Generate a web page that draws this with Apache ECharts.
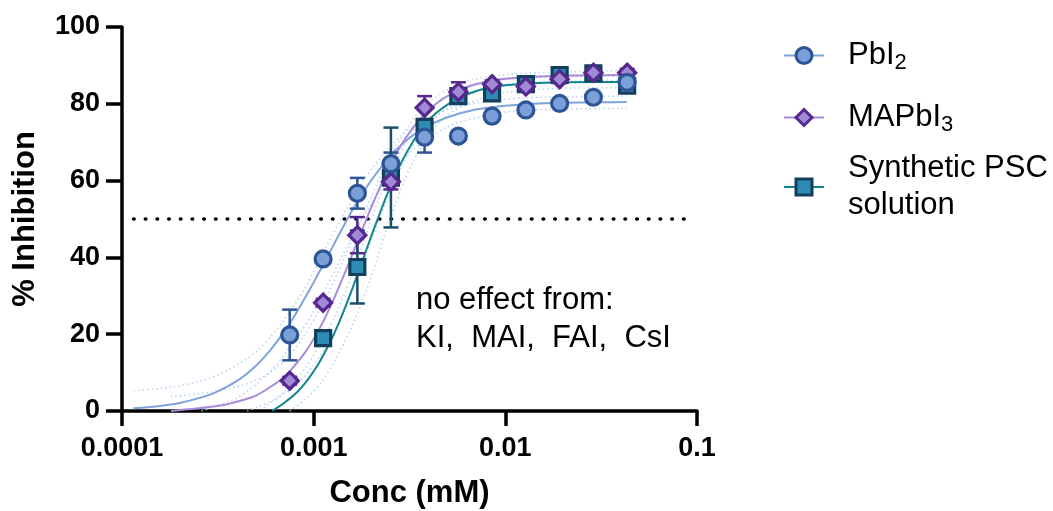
<!DOCTYPE html>
<html>
<head>
<meta charset="utf-8">
<script src="https://cdn.jsdelivr.net/npm/echarts@6/dist/echarts.min.js"></script>
<style>
  html, body { margin: 0; padding: 0; background: #fff; }
  #chart { width: 1053px; height: 511px; }
</style>
</head>
<body>
<div id="chart"></div>
<script>
// ---- measured points (mean ± SD) ----
const concs = [0.00075, 0.00112, 0.00169, 0.00253, 0.00379, 0.00569, 0.00853, 0.0128, 0.0192, 0.0288, 0.0432];
const pbi2Mean = [19.8, 39.6, 56.7, 64.4, 71.3, 71.6, 76.8, 78.4, 80.1, 81.7, 85.6];
const pbi2Sd = [6.6, 1.0, 4.0, 2.9, 4.0, 1.0, 1.0, 1.0, 1.0, 1.0, 1.0];
const mapbi3Mean = [7.9, 28.2, 45.8, 59.7, 79.0, 83.1, 85.1, 84.5, 86.4, 88.1, 88.1];
const mapbi3Sd = [1.0, 1.0, 4.7, 2.0, 3.0, 2.5, 1.0, 1.0, 1.0, 1.0, 1.0];
const pscConcs = [0.00112, 0.00169, 0.00253, 0.00379, 0.00569, 0.00853, 0.0128, 0.0192, 0.0288, 0.0432];
const pscMean = [19.0, 37.5, 60.8, 74.0, 82.0, 82.7, 85.1, 87.5, 87.9, 84.7];
const pscSd = [1.0, 9.5, 13.0, 1.5, 1.0, 1.0, 1.0, 1.0, 1.0, 1.0];

// ---- fitted dose-response curves ----
const pbi2FitConc = [0.000115, 0.00015, 0.0002, 0.0003, 0.0004, 0.0005, 0.0006, 0.0007, 0.0008, 0.0009, 0.001, 0.0012, 0.0013, 0.0015, 0.0017, 0.002, 0.0025, 0.003, 0.0035, 0.004, 0.005, 0.007, 0.01, 0.015, 0.02, 0.03, 0.043];
const pbi2FitY = [0.7, 1.2, 2.1, 4.6, 7.9, 11.8, 16.1, 20.6, 25.0, 29.4, 33.5, 40.9, 44.2, 50.0, 54.7, 60.1, 66.3, 70.2, 72.7, 74.4, 76.5, 78.5, 79.5, 80.1, 80.3, 80.4, 80.45];
const mapbi3FitConc = [0.00018, 0.00025, 0.00035, 0.0005, 0.0007, 0.0009, 0.0011, 0.0013, 0.0015, 0.0017, 0.002, 0.0025, 0.003, 0.0037, 0.0045, 0.0057, 0.0075, 0.01, 0.015, 0.022, 0.043];
const mapbi3FitY = [0.0, 0.7, 1.7, 4.0, 8.8, 15.2, 22.5, 30.2, 37.6, 44.4, 53.1, 63.9, 70.9, 76.8, 80.6, 83.6, 85.5, 86.5, 87.1, 87.4, 87.5];
const pscFitConc = [0.000607, 0.0007, 0.000819, 0.00093, 0.001042, 0.00115, 0.001272, 0.0014, 0.0016, 0.00179, 0.002, 0.00225, 0.00253, 0.0029, 0.00332, 0.0038, 0.0044, 0.0057, 0.0075, 0.01, 0.015, 0.0215, 0.0432];
const pscFitY = [0.0, 2.1, 4.9, 8.1, 11.7, 15.5, 19.9, 24.7, 32.2, 38.9, 45.6, 52.4, 58.8, 65.2, 70.4, 74.5, 77.8, 81.6, 83.7, 84.8, 85.4, 85.6, 85.7];

// ---- 95% confidence bands of the fits ----
const pbi2UpperConc = [0.000115, 0.00018, 0.00027, 0.00037, 0.00049, 0.0006, 0.0007, 0.0009, 0.0012, 0.0015, 0.002, 0.003, 0.005, 0.01, 0.02, 0.043];
const pbi2UpperY = [5.3, 6.2, 8.1, 11.1, 15.0, 19.5, 23.7, 32.0, 44.0, 53.0, 63.0, 72.5, 78.5, 81.2, 81.8, 82.0];
const pbi2LowerConc = [0.00026, 0.0004, 0.0006, 0.0008, 0.001, 0.0012, 0.0015, 0.002, 0.003, 0.005, 0.01, 0.02, 0.043];
const pbi2LowerY = [0.0, 3.5, 10.5, 18.5, 26.0, 33.5, 43.0, 54.0, 66.0, 74.0, 77.8, 78.6, 78.8];
const mapbi3UpperConc = [0.00018, 0.0003, 0.0005, 0.0007, 0.0009, 0.0012, 0.0017, 0.0025, 0.0037, 0.006, 0.01, 0.02, 0.043];
const mapbi3UpperY = [3.7, 5.0, 8.0, 13.0, 20.0, 31.0, 48.0, 66.0, 79.0, 85.5, 87.6, 88.3, 88.6];
const mapbi3LowerConc = [0.00045, 0.0006, 0.0008, 0.001, 0.0013, 0.0017, 0.0025, 0.0037, 0.006, 0.01, 0.02, 0.043];
const mapbi3LowerY = [0.0, 2.5, 6.5, 12.0, 21.0, 35.0, 57.0, 73.0, 81.5, 85.0, 85.8, 86.2];
const pscUpperConc = [0.00055, 0.0007, 0.0009, 0.0011, 0.0013, 0.0016, 0.002, 0.0025, 0.0033, 0.0044, 0.006, 0.01, 0.02, 0.043];
const pscUpperY = [0.8, 5.0, 11.0, 18.0, 25.0, 36.0, 50.0, 62.0, 73.0, 80.0, 83.8, 86.3, 87.0, 87.2];
const pscLowerConc = [0.00075, 0.0009, 0.0011, 0.0013, 0.0016, 0.002, 0.0025, 0.0033, 0.0044, 0.006, 0.01, 0.02, 0.043];
const pscLowerY = [0.0, 3.0, 7.5, 13.5, 22.5, 35.0, 50.0, 65.0, 74.5, 79.5, 83.0, 84.0, 84.2];

// ---- reference level and tick labels ----
const halfLevelConc = [0.000115, 0.0902];
const halfLevelY = [50, 50];
const xTickLabels = ['0.0001', '0.001', '0.01', '0.1'];

const FONT = '"Liberation Sans", Arial, Helvetica, sans-serif';

const styles = {
  'PbI2': { symbol: 'circle', size: 16, fill: '#7b9fd8', border: '#2d5596', curve: '#7fa3dc', bar: '#2d5596' },
  'MAPbI3': { symbol: 'diamond', size: 17, fill: '#a08ad6', border: '#56288e', curve: '#a98bdb', bar: '#56288e' },
  'Synthetic PSC solution': { symbol: 'rect', size: 15, fill: '#2e8cb4', border: '#133e5c', curve: '#12858f', bar: '#1b4d6b' }
};

const pairs = (xs, ys) => xs.map((x, i) => [x, ys[i]]);
const triples = (xs, ys, es) => xs.map((x, i) => [x, ys[i], es[i]]);

function curveSeries(name, xs, ys) {
  const s = styles[name];
  return {
    type: 'line', name, data: pairs(xs, ys),
    symbol: s.symbol, showSymbol: false, smooth: 0.2, silent: true, z: 3,
    itemStyle: { color: s.fill, borderColor: s.border, borderWidth: 3 },
    lineStyle: { color: s.curve, width: 2 }
  };
}

function bandSeries(name, xs, ys) {
  return {
    type: 'line', name, data: pairs(xs, ys),
    symbol: 'none', smooth: 0.3, silent: true, z: 1,
    lineStyle: { color: '#b3d0ee', width: 1.6, type: [1.5, 3], opacity: 0.9 }
  };
}

function errorBarSeries(name, xs, ys, es) {
  const color = styles[name].bar;
  return {
    type: 'custom', name, data: triples(xs, ys, es), silent: true, z: 4,
    encode: { x: 0, y: 1 },
    renderItem(params, api) {
      const x = api.value(0), y = api.value(1), sd = api.value(2);
      const hi = api.coord([x, y + sd]);
      const lo = api.coord([x, y - sd]);
      const half = 7.5;
      const style = { stroke: color, lineWidth: 2.5, fill: null };
      return {
        type: 'group',
        children: [
          { type: 'line', shape: { x1: hi[0], y1: hi[1], x2: lo[0], y2: lo[1] }, style },
          { type: 'line', shape: { x1: hi[0] - half, y1: hi[1], x2: hi[0] + half, y2: hi[1] }, style },
          { type: 'line', shape: { x1: lo[0] - half, y1: lo[1], x2: lo[0] + half, y2: lo[1] }, style }
        ]
      };
    }
  };
}

function pointSeries(name, xs, ys, z) {
  const s = styles[name];
  return {
    type: 'scatter', name, data: pairs(xs, ys), silent: true, z,
    symbol: s.symbol, symbolSize: s.size,
    itemStyle: { color: s.fill, borderColor: s.border, borderWidth: 3.2, opacity: 1 }
  };
}

const legendText = {
  'PbI2': '{n|PbI}{s|2}',
  'MAPbI3': '{n|MAPbI}{s|3}',
  'Synthetic PSC solution': '{n|Synthetic PSC}\n{n|solution}'
};

function legendItem(name, top) {
  const s = styles[name];
  return {
    data: [name], left: 783, top, padding: 0, orient: 'vertical',
    itemWidth: 40, itemHeight: 20, selectedMode: false,
    itemStyle: { color: s.fill, borderColor: s.border, borderWidth: 3 },
    lineStyle: { color: s.curve, width: 2 },
    formatter: n => legendText[n],
    textStyle: {
      fontFamily: FONT, fontSize: 31, color: '#000',
      rich: {
        n: { fontFamily: FONT, fontSize: 31, lineHeight: 37, color: '#000', padding: [0, 0, 0, 19] },
        s: { fontFamily: FONT, fontSize: 22, lineHeight: 18, color: '#000', verticalAlign: 'bottom' }
      }
    }
  };
}

const chart = echarts.init(document.getElementById('chart'), null, { renderer: 'canvas' });

chart.setOption({
  animation: false,
  backgroundColor: '#fff',
  grid: { left: 122, right: 356, top: 27, bottom: 100, containLabel: false, outerBoundsMode: 'none' },
  xAxis: {
    type: 'log', logBase: 10, min: 0.0001, max: 0.1,
    name: 'Conc (mM)', nameLocation: 'middle', nameGap: 67,
    nameTextStyle: { fontFamily: FONT, fontSize: 31, fontWeight: 'bold', color: '#000' },
    axisLine: { onZero: false, lineStyle: { color: '#000', width: 3.5 } },
    axisTick: { show: true, length: 15, lineStyle: { color: '#000', width: 3.5 } },
    minorTick: { show: false },
    splitLine: { show: false },
    axisLabel: {
      margin: 24, color: '#000', fontFamily: FONT, fontSize: 27, fontWeight: 'bold',
      formatter: v => xTickLabels[Math.round(Math.log10(v)) + 4]
    }
  },
  yAxis: {
    type: 'value', min: 0, max: 100, interval: 20,
    name: '% Inhibition', nameLocation: 'middle', nameGap: 81, nameRotate: 90,
    nameTextStyle: { fontFamily: FONT, fontSize: 31, fontWeight: 'bold', color: '#000' },
    axisLine: { show: true, lineStyle: { color: '#000', width: 3.5 } },
    axisTick: { show: true, length: 16, lineStyle: { color: '#000', width: 3.5 } },
    splitLine: { show: false },
    axisLabel: { margin: 22, color: '#000', fontFamily: FONT, fontSize: 27, fontWeight: 'bold' }
  },
  legend: [
    legendItem('PbI2', 40),
    legendItem('MAPbI3', 102),
    legendItem('Synthetic PSC solution', 153)
  ],
  graphic: [{
    type: 'text', left: 416, top: 281, silent: true,
    style: {
      text: 'no effect from:\nKI,  MAI,  FAI,  CsI',
      font: '31px ' + FONT, fill: '#000', lineHeight: 38
    }
  }],
  series: [
    curveSeries('PbI2', pbi2FitConc, pbi2FitY),
    curveSeries('MAPbI3', mapbi3FitConc, mapbi3FitY),
    curveSeries('Synthetic PSC solution', pscFitConc, pscFitY),
    bandSeries('PbI2 upper band', pbi2UpperConc, pbi2UpperY),
    bandSeries('PbI2 lower band', pbi2LowerConc, pbi2LowerY),
    bandSeries('MAPbI3 upper band', mapbi3UpperConc, mapbi3UpperY),
    bandSeries('MAPbI3 lower band', mapbi3LowerConc, mapbi3LowerY),
    bandSeries('PSC upper band', pscUpperConc, pscUpperY),
    bandSeries('PSC lower band', pscLowerConc, pscLowerY),
    {
      type: 'line', name: 'half level', data: pairs(halfLevelConc, halfLevelY),
      symbol: 'none', silent: true, z: 2,
      lineStyle: { color: '#000', width: 3.6, type: [0.5, 11.2], cap: 'round' }
    },
    errorBarSeries('PbI2', concs, pbi2Mean, pbi2Sd),
    errorBarSeries('MAPbI3', concs, mapbi3Mean, mapbi3Sd),
    errorBarSeries('Synthetic PSC solution', pscConcs, pscMean, pscSd),
    pointSeries('Synthetic PSC solution', pscConcs, pscMean, 5),
    pointSeries('MAPbI3', concs, mapbi3Mean, 6),
    pointSeries('PbI2', concs, pbi2Mean, 7)
  ]
});
</script>
</body>
</html>
